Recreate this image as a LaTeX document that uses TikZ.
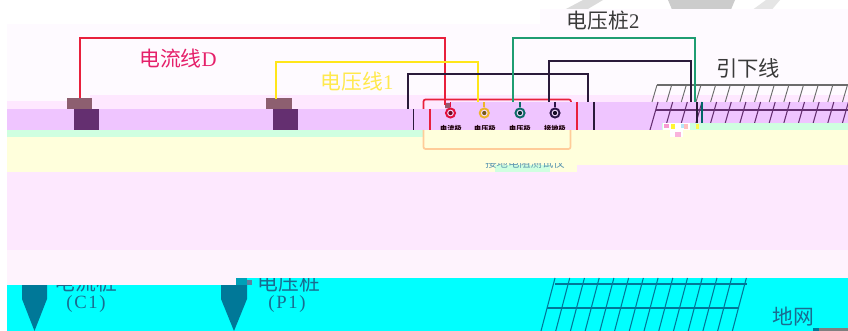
\documentclass[tikz,border=0pt]{standalone}
\usepackage{fontspec}
\setmainfont{Liberation Serif}
\newfontfamily\cjk{Noto Sans CJK SC}
\newfontfamily\spaced[LetterSpace=9]{Liberation Serif}
\definecolor{palebg}{HTML}{FEFAFF}
\definecolor{pinka}{HTML}{FEE8FF}
\definecolor{purp}{HTML}{EFC5FF}
\definecolor{mint}{HTML}{CFFFE0}
\definecolor{yel}{HTML}{FFFFDC}
\definecolor{pinkb}{HTML}{FDE8FE}
\definecolor{pinkc}{HTML}{FEF3FD}
\definecolor{brownc}{HTML}{8D5F70}
\definecolor{darkp}{HTML}{642F70}
\definecolor{redw}{HTML}{E8203C}
\definecolor{yelw}{HTML}{FFE61A}
\definecolor{greenw}{HTML}{1F9D72}
\definecolor{blackw}{HTML}{2A1A3A}
\definecolor{peach}{HTML}{FFCC99}
\definecolor{pegc}{HTML}{007898}
\definecolor{txtblue}{HTML}{1A6C90}
\definecolor{tdark}{HTML}{3A3A3A}
\definecolor{cy}{HTML}{00FFFF}
\definecolor{lblred}{HTML}{E5206A}
\definecolor{lblyel}{HTML}{FFE94D}
\tikzset{
 x=0.75pt,y=-0.75pt,
 wire/.style={line width=1.5pt,line join=miter},
 capbox/.style={fill=brownc,minimum width=19pt,minimum height=8.2pt,inner sep=0pt,outer sep=0pt},
 footbox/.style={fill=darkp,minimum width=19pt,minimum height=15.8pt,inner sep=0pt,outer sep=0pt},
 lbl/.style={inner sep=0pt,font=\cjk\fontsize{15.6pt}{17pt}\selectfont},
 termlbl/.style={inner sep=0pt,font=\cjk\bfseries\fontsize{5.4pt}{6pt}\selectfont,text=black!85!purple},
 termo/.style={circle,inner sep=0pt,minimum size=8.4pt,outer sep=0pt},
 termi/.style={circle,inner sep=0pt,minimum size=5pt,fill=purp!60!white},
 termc/.style={circle,inner sep=0pt,minimum size=3.2pt},
}
\begin{document}
\begin{tikzpicture}
\useasboundingbox (0,0) rectangle (848,331);
\fill[white] (0,0) rectangle (848,331);
% watermark
\fill[gray!28] (565,9.5)--(583,0)--(603,0)--(587,9.5)--cycle;
\fill[gray!40] (668,0)--(735,0)--(731,9.5)--(672,9.5)--cycle;
\fill[gray!20] (753,9.5)--(766,0)--(780,0)--(772,9.5)--cycle;
% bands
\fill[palebg] (7,24) rectangle (848,95);
\fill[palebg] (540,9.5) rectangle (848,24);
\fill[palebg] (7,95) rectangle (90,101);
\fill[pinka] (7,101) rectangle (848,109);
\fill[pinka] (90,95) rectangle (848,101);
\fill[purp] (7,109) rectangle (848,130);
\fill[purp] (445,102) rectangle (848,130);
% hatch upper
\foreach \i in {0,...,13}{
 \draw[gray!85!black,line width=0.7pt] ({657+14.65*\i},85) -- ({652+14.65*\i},102);
 \draw[darkp,line width=0.8pt] ({658+14.65*\i},102) -- ({650+14.65*\i},130);
}
\draw[gray!85!black,line width=0.8pt] (657,85) -- (848,85);
\draw[darkp,line width=1pt] (656,110) -- (848,110);
% terminal labels (clipped by the lower bands)
\node[termlbl] (l1) at (451,129) {电流极};
\node[termlbl] (l2) at (485,129) {电压极};
\node[termlbl] (l3) at (520,129) {电压极};
\node[termlbl] (l4) at (555,129) {接地极};
% lower bands
\fill[mint] (7,130) rectangle (423,137);
\fill[yel] (7,137) rectangle (423,172);
\fill[yel] (423,130) rectangle (465,172);
\fill[yel] (465,130) rectangle (577,172);
\fill[yel] (577,130) rectangle (848,165);
\fill[mint] (662,123) rectangle (848,130);
\fill[pinkb] (7,172) rectangle (577,250);
\fill[pinkb] (577,165) rectangle (848,250);
\fill[pinkc] (7,250) rectangle (848,278);
\fill[pinkc] (7,278) rectangle (237,285);
% tester title, only its lower part survives
\begin{scope}
\clip (465,164) rectangle (585,172);
\fill[mint] (495,165) rectangle (550,172);
\node[inner sep=0pt,text=txtblue!70,font=\cjk\fontsize{8.5pt}{9pt}\selectfont] (title) at (525,163) {接地电阻测试仪};
\end{scope}
\fill[white] (663,123) rectangle (690,130);
\fill[white] (670,130) rectangle (683,137);
\fill[magenta!40] (664,124) rectangle (669,128);
\fill[yellow!80] (671,124) rectangle (675,129);
\fill[pink] (684,124) rectangle (688,129);
\fill[cyan!30] (681,124) rectangle (684,128);
\fill[magenta!30] (675,132) rectangle (681,137);
\fill[yellow!70] (696,124) rectangle (699,129);
% ground
\fill[cy] (7,285) rectangle (237,331);
\fill[cy] (237,278) rectangle (848,331);
\fill[pegc!70!cy] (236,278) rectangle (247,285);
\fill[cy!50!purple] (247,280) rectangle (252,285);
\begin{scope}
\clip (7,285) rectangle (848,331);
\node[lbl,text=txtblue] (tc1) at (86,283) {电流桩};
\end{scope}
\begin{scope}
\clip (237,278) rectangle (848,331);
\node[lbl,text=txtblue] (tp1) at (289,283) {电压桩};
\end{scope}
\node[inner sep=0pt,text=txtblue,font=\spaced\fontsize{14pt}{15pt}\selectfont] (c1) at (86,304) {(C1)};
\node[inner sep=0pt,text=txtblue,font=\spaced\fontsize{14pt}{15pt}\selectfont] (p1) at (287,304) {(P1)};
\node[lbl,text=txtblue] (gnet) at (793,317) {地网};
\fill[pegc] (22,285) -- (47,285) -- (47,299) -- (34.5,331) -- (22,299) -- cycle;
\fill[pegc] (221,285) -- (247,285) -- (247,299) -- (234,331) -- (221,299) -- cycle;
\foreach \i in {0,...,13}{
 \draw[pegc,line width=0.8pt] ({555+14.72*\i},278) -- ({541+14.72*\i},331);
}
\draw[pegc,line width=1pt] (555,284) -- (747,284);
\draw[pegc,line width=1pt] (547,308) -- (738,308);
\fill[gray] (819,328) rectangle (848,331);
\fill[pegc] (813,328) rectangle (819,331);
% upper stakes
\node[capbox] (cap1) at (79.5,103.5) {};
\node[footbox] (foot1) at (86.5,119.5) {};
\node[capbox] (cap2) at (279,103.5) {};
\node[footbox] (foot2) at (285.5,119.5) {};
% instrument box
\draw[redw,line width=1.3pt,rounded corners=1.5pt] (423.5,109) -- (423.5,99.5) -- (571,99.5) -- (571,102);
\draw[redw,line width=1.3pt] (430,109) -- (430,130);
\draw[redw,line width=1.3pt] (577,102) -- (577,130);
\draw[peach,line width=1.3pt,rounded corners=1.5pt] (423.5,130) -- (423.5,149) -- (570.5,149) -- (570.5,130);
\draw[blackw,line width=1.2pt] (413.5,109) -- (413.5,130);
\draw[blackw,line width=1.2pt] (594,102) -- (594,130);
% terminals
\foreach \n/\x/\c in {t1/450.5/E0103C,t2/484.3/EDB52C,t3/520/0E6B66,t4/555/2D1648}{
 \definecolor{tc}{HTML}{\c}
 \node[termo,fill=tc] (\n) at (\x,113) {};
 \node[termi] (\n i) at (\n) {};
 \node[termc,fill=tc!50!black] (\n c) at (\n) {};
 \draw[tc,line width=1.3pt] (\n.north) -- ++(0,-5);
}
\fill[gray!70!purple] (445,103) rectangle (450,108);
% wires
\coordinate (redend) at (444.5,105);
\coordinate (yelend) at (478,102);
\coordinate (bla) at (407.5,109);
\coordinate (blb) at (588,102);
\coordinate (grna) at (513,102);
\coordinate (grnb) at (695,102);
\coordinate (blc) at (549,102);
\coordinate (bld) at (691,102);
\coordinate (yela) at (275.5,99.4);
\draw[wire,redw] (cap1.north) -- ++(0,-60) -| (redend);
\draw[wire,yelw] (yela) -- ++(0,-37) -| (yelend);
\draw[wire,blackw] (bla) -- ++(0,-35) -| (blb);
\draw[wire,greenw] (grna) -- ++(0,-64) -| (grnb);
\draw[wire,blackw] (blc) -- ++(0,-41) -| (bld);
\draw[blackw,line width=1.2pt] (697,102) -- (697,123);
\draw[teal!80!black,line width=1.2pt] (702,102) -- (702,123);
% labels
\node[lbl,text=lblred] (la) at (178,59) {电流线{\rmfamily D}};
\node[lbl,text=lblyel] (lb) at (357,82) {电压线{\rmfamily 1}};
\node[lbl,text=tdark] (lc) at (603,21) {电压桩{\rmfamily 2}};
\node[lbl,text=tdark,font=\cjk\fontsize{16pt}{17pt}\selectfont] (ld) at (748,68) {引下线};
\end{tikzpicture}
\end{document}
